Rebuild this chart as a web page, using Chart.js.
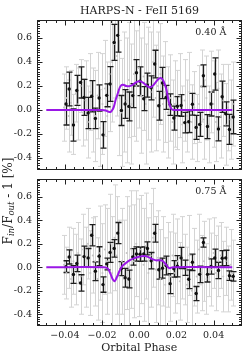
<!DOCTYPE html>
<html>
<head>
<meta charset="utf-8">
<title>HARPS-N - FeII 5169</title>
<script src="https://cdn.jsdelivr.net/npm/chart.js@4.4.0/dist/chart.umd.min.js"></script>
<style>
    html, body { margin: 0; padding: 0; background: #fff; }
    body { width: 249px; height: 360px; position: relative; overflow: hidden; font-family: "DejaVu Serif", serif; color: #222; }
    #topWrap { position: absolute; left: 0; top: 0; width: 249px; height: 175px; }
    #botWrap { position: absolute; left: 0; top: 175px; width: 249px; height: 185px; }
    #title { position: absolute; left: 37px; top: 4px; width: 205px; text-align: center; font-size: 11px; line-height: 14px; white-space: nowrap; }
    #ylabel { position: absolute; left: -62px; top: 194px; width: 140px; height: 14px; text-align: center; font-size: 12px; line-height: 14px; white-space: nowrap; transform: rotate(-90deg); }
    #ylabel sub { font-size: 8.5px; font-style: italic; vertical-align: -2px; line-height: 0; }
</style>
</head>
<body>
<div id="topWrap"><canvas id="topChart" width="249" height="175"></canvas></div>
<div id="botWrap"><canvas id="botChart" width="249" height="185"></canvas></div>
<div id="title">HARPS-N - FeII 5169</div>
<div id="ylabel">F<sub>in</sub>/F<sub>out</sub> - 1 [%]</div>

<script>
// Transit light curves of FeII 5169 - two passband widths

// Binned points (black), same phases in both panels
const BIN_PHASE = [-0.0394, -0.0377, -0.0354, -0.0336, -0.0316, -0.0297, -0.0275, -0.0256, -0.0236, -0.0216,
    -0.0195, -0.0175, -0.0157, -0.0135, -0.0116, -0.0096, -0.0076, -0.0056, -0.0035, -0.0015,
    0.0004, 0.0024, 0.0044, 0.0064, 0.0083, 0.0105, 0.0125, 0.0144, 0.0166, 0.0186,
    0.0205, 0.0225, 0.0245, 0.0266, 0.0286, 0.0306, 0.0325, 0.0345, 0.0367, 0.0386,
    0.0406, 0.0426, 0.0446, 0.0465, 0.0485, 0.0505];

const TOP_BIN_VAL = [0.05, 0.175, -0.125, 0.163, 0.23, 0.105, -0.025, 0.115, -0.07, 0.1,
    -0.207, 0.122, 0.217, 0.563, 0.622, -0.004, 0.05, 0.03, 0.12, 0.31,
    0.24, 0.094, 0.208, 0.185, 0.383, 0.036, 0.225, 0.105, 0.045, -0.067,
    0.032, 0.038, -0.105, -0.098, 0.048, -0.145, -0.12, 0.286, -0.138, 0.05,
    0.3, -0.158, 0.11, -0.032, -0.162, -0.058];
const TOP_BIN_ERR = [0.175, 0.14, 0.135, 0.125, 0.13, 0.15, 0.13, 0.13, 0.085, 0.11,
    0.11, 0.095, 0.145, 0.15, 0.14, 0.125, 0.12, 0.12, 0.1, 0.11,
    0.12, 0.1, 0.1, 0.1, 0.115, 0.12, 0.13, 0.1, 0.09, 0.1,
    0.08, 0.09, 0.085, 0.09, 0.09, 0.1, 0.1, 0.09, 0.1, 0.1,
    0.135, 0.1, 0.13, 0.1, 0.125, 0.14];

const BOT_BIN_VAL = [0.005, 0.087, -0.062, 0.032, -0.134, 0.09, 0.079, 0.272, -0.035, 0.094,
    -0.148, 0.028, 0.126, 0.16, 0.29, -0.012, -0.09, -0.1, 0.088, 0.112,
    0.11, 0.112, 0.16, 0.055, 0.289, -0.022, -0.008, 0.014, -0.14, -0.014,
    0.008, 0.079, -0.005, -0.103, 0.042, -0.224, -0.061, 0.21, -0.061, 0.006,
    0.079, -0.028, 0.076, 0.079, -0.072, -0.078];
const BOT_BIN_ERR = [0.05, 0.06, 0.075, 0.07, 0.07, 0.09, 0.08, 0.09, 0.08, 0.08,
    0.065, 0.05, 0.085, 0.075, 0.09, 0.06, 0.08, 0.075, 0.07, 0.06,
    0.06, 0.06, 0.055, 0.07, 0.075, 0.08, 0.085, 0.08, 0.085, 0.07,
    0.09, 0.09, 0.065, 0.08, 0.07, 0.06, 0.07, 0.04, 0.065, 0.065,
    0.075, 0.07, 0.065, 0.065, 0.04, 0.04];

// Individual exposures (light gray)
const RAW_PHASE = [-0.0405, -0.0392, -0.0380, -0.0367, -0.0354, -0.0341, -0.0328, -0.0315, -0.0302, -0.0289,
    -0.0276, -0.0263, -0.0250, -0.0237, -0.0224, -0.0211, -0.0198, -0.0185, -0.0172, -0.0159,
    -0.0146, -0.0133, -0.0120, -0.0107, -0.0094, -0.0081, -0.0068, -0.0055, -0.0042, -0.0029,
    -0.0016, -0.0003, 0.0010, 0.0023, 0.0036, 0.0049, 0.0062, 0.0075, 0.0088, 0.0101,
    0.0114, 0.0127, 0.0140, 0.0153, 0.0166, 0.0179, 0.0192, 0.0205, 0.0218, 0.0231,
    0.0244, 0.0257, 0.0270, 0.0283, 0.0296, 0.0309, 0.0322, 0.0335, 0.0348, 0.0361,
    0.0374, 0.0387, 0.0400, 0.0413, 0.0426, 0.0439, 0.0452, 0.0465, 0.0478, 0.0491, 0.0504];

const TOP_RAW_VAL = [0.02, 0.10, -0.05, 0.06, -0.12, 0.14, 0.05, 0.20, -0.02, 0.08,
    -0.10, 0.15, 0.00, -0.05, 0.12, -0.15, 0.05, 0.18, -0.05, 0.30,
    0.40, 0.55, 0.45, 0.10, -0.02, 0.15, 0.08, 0.25, 0.05, 0.30,
    0.20, 0.35, 0.12, 0.28, 0.05, 0.22, 0.15, 0.40, 0.10, 0.20,
    0.30, 0.05, 0.15, -0.02, 0.10, -0.10, 0.05, 0.00, 0.12, -0.12,
    0.08, -0.05, 0.15, -0.10, 0.02, -0.15, 0.05, 0.20, -0.08, 0.10,
    -0.12, 0.15, 0.05, -0.10, 0.18, -0.05, 0.08, -0.12, 0.02, -0.08, 0.05];
const TOP_RAW_ERR = [0.28, 0.26, 0.30, 0.27, 0.25, 0.24, 0.30, 0.22, 0.28, 0.33,
    0.30, 0.32, 0.35, 0.38, 0.36, 0.32, 0.42, 0.40, 0.45, 0.48,
    0.50, 0.45, 0.50, 0.48, 0.45, 0.50, 0.52, 0.48, 0.50, 0.52,
    0.46, 0.50, 0.48, 0.45, 0.50, 0.47, 0.50, 0.46, 0.44, 0.45,
    0.42, 0.40, 0.42, 0.38, 0.36, 0.35, 0.36, 0.33, 0.35, 0.32,
    0.34, 0.30, 0.33, 0.31, 0.30, 0.28, 0.32, 0.30, 0.33, 0.35,
    0.32, 0.34, 0.36, 0.33, 0.32, 0.35, 0.30, 0.34, 0.36, 0.33, 0.35];

const BOT_RAW_VAL = [0.02, -0.05, 0.08, -0.10, 0.05, -0.02, 0.12, -0.08, 0.15, 0.00,
    0.20, -0.05, 0.10, 0.05, -0.10, 0.12, -0.05, 0.15, 0.05, 0.20,
    -0.05, 0.25, 0.10, -0.08, 0.05, -0.10, 0.12, 0.00, 0.15, 0.05,
    0.20, 0.08, 0.15, 0.02, 0.18, -0.05, 0.10, 0.25, -0.02, 0.08,
    -0.10, 0.05, -0.15, 0.02, -0.08, 0.10, -0.05, 0.05, -0.12, 0.08,
    -0.02, -0.15, 0.10, -0.20, 0.00, -0.08, 0.15, -0.05, 0.05, -0.10,
    0.08, -0.02, 0.12, -0.05, 0.05, 0.10, -0.08, 0.05, -0.10, 0.02, -0.05];
const BOT_RAW_ERR = [0.25, 0.22, 0.26, 0.24, 0.28, 0.30, 0.26, 0.32, 0.30, 0.34,
    0.30, 0.36, 0.32, 0.38, 0.35, 0.40, 0.42, 0.38, 0.45, 0.42,
    0.48, 0.45, 0.50, 0.48, 0.45, 0.50, 0.48, 0.52, 0.50, 0.48,
    0.45, 0.50, 0.46, 0.48, 0.45, 0.47, 0.44, 0.42, 0.45, 0.40,
    0.42, 0.38, 0.40, 0.36, 0.38, 0.35, 0.34, 0.36, 0.33, 0.35,
    0.30, 0.32, 0.34, 0.30, 0.33, 0.31, 0.30, 0.32, 0.34, 0.30,
    0.33, 0.31, 0.30, 0.32, 0.30, 0.28, 0.30, 0.29, 0.28, 0.30, 0.28];

// Model curves (purple)
const TOP_MODEL_PHASE = [-0.050, -0.020, -0.018, -0.0165, -0.0153, -0.0143, -0.0136, -0.0127, -0.0117, -0.0108,
    -0.0100, -0.0090, -0.0082, -0.0070, -0.0055, -0.0040, -0.0025, -0.0010, 0.0005, 0.0020,
    0.0035, 0.0050, 0.0062, 0.0075, 0.0090, 0.0105, 0.0116, 0.0131, 0.0146, 0.0160,
    0.0173, 0.0185, 0.050];
const TOP_MODEL_VAL = [0, 0, -0.004, -0.014, -0.015, 0.005, 0.03, 0.085, 0.13, 0.175,
    0.2, 0.21, 0.208, 0.2, 0.198, 0.205, 0.222, 0.237, 0.24, 0.228,
    0.21, 0.193, 0.19, 0.205, 0.235, 0.26, 0.267, 0.24, 0.17, 0.06,
    0.008, 0, 0];

const BOT_MODEL_PHASE = [-0.050, -0.019, -0.017, -0.0155, -0.0142, -0.0132, -0.0122, -0.011, -0.010, -0.009,
    -0.007, -0.005, -0.003, -0.001, 0.001, 0.003, 0.005, 0.007, 0.009, 0.011,
    0.0125, 0.014, 0.0155, 0.0165, 0.018, 0.050];
const BOT_MODEL_VAL = [0, 0, -0.01, -0.055, -0.105, -0.118, -0.09, -0.045, -0.012, 0.012,
    0.038, 0.06, 0.075, 0.085, 0.092, 0.095, 0.085, 0.068, 0.058, 0.06,
    0.055, 0.03, 0.0, -0.008, 0.0, 0];

// Axis setup
const X_MIN = -0.055, X_MAX = 0.055;
const Y_MIN = -0.5, Y_MAX = 0.75;
const X_TICKS = [-0.04, -0.02, 0.0, 0.02, 0.04];
const Y_TICKS = [-0.4, -0.2, 0.0, 0.2, 0.4, 0.6];
const X_MINOR_STEP = 0.005;
const Y_MINOR_STEP = 0.02;

const PURPLE = '#9a17e6';
const FONT = 'DejaVu Serif';

// Build {x, y} points from two arrays
function toPoints(xs, ys) {
    return xs.map((x, i) => ({ x: x, y: ys[i] }));
}

// Error bars drawn under the markers
const errorBarPlugin = {
    id: 'errorBars',
    beforeDatasetsDraw(chart) {
        const { ctx, chartArea: a, scales: { x, y } } = chart;
        ctx.save();
        ctx.beginPath();
        ctx.rect(a.left, a.top, a.right - a.left, a.bottom - a.top);
        ctx.clip();
        chart.data.datasets.slice().reverse().forEach(ds => {
            if (!ds.errors) return;
            ctx.strokeStyle = ds.errColor;
            ctx.lineWidth = ds.errWidth;
            ds.data.forEach((p, i) => {
                const px = Math.round(x.getPixelForValue(p.x)) + 0.5;
                const top = y.getPixelForValue(p.y + ds.errors[i]);
                const bot = y.getPixelForValue(p.y - ds.errors[i]);
                const c = ds.capSize;
                ctx.beginPath();
                ctx.moveTo(px, top);
                ctx.lineTo(px, bot);
                ctx.moveTo(px - c, top);
                ctx.lineTo(px + c, top);
                ctx.moveTo(px - c, bot);
                ctx.lineTo(px + c, bot);
                ctx.stroke();
            });
        });
        ctx.restore();
    }
};

// Box frame with inward major/minor ticks on all sides
const frameTickPlugin = {
    id: 'frameTicks',
    afterDraw(chart) {
        const { ctx, chartArea: a, scales: { x, y } } = chart;
        const L = Math.round(a.left) + 0.5, R = Math.round(a.right) - 0.5;
        const T = Math.round(a.top) + 0.5, B = Math.round(a.bottom) - 0.5;
        ctx.save();
        ctx.strokeStyle = '#222';
        ctx.lineWidth = 1;
        ctx.strokeRect(L, T, R - L, B - T);
        ctx.beginPath();
        for (let v = -0.05; v <= 0.0501; v += X_MINOR_STEP) {
            const major = X_TICKS.some(t => Math.abs(t - v) < 1e-6);
            const len = major ? 5 : 2.5;
            const px = Math.round(x.getPixelForValue(v)) + 0.5;
            ctx.moveTo(px, B); ctx.lineTo(px, B - len);
            ctx.moveTo(px, T); ctx.lineTo(px, T + len);
        }
        for (let v = -0.48; v <= 0.7401; v += Y_MINOR_STEP) {
            const major = Y_TICKS.some(t => Math.abs(t - v) < 1e-6);
            const len = major ? 5 : 2.5;
            const py = Math.round(y.getPixelForValue(v)) + 0.5;
            ctx.moveTo(L, py); ctx.lineTo(L + len, py);
            ctx.moveTo(R, py); ctx.lineTo(R - len, py);
        }
        ctx.stroke();
        ctx.restore();
    }
};

// Passband width label in the upper right corner
const panelLabelPlugin = {
    id: 'panelLabel',
    afterDraw(chart, args, opts) {
        const { ctx, scales: { x, y } } = chart;
        ctx.save();
        ctx.fillStyle = '#222';
        ctx.font = '9.5px "' + FONT + '"';
        ctx.textAlign = 'center';
        ctx.textBaseline = 'middle';
        ctx.fillText(opts.text, x.getPixelForValue(opts.x), y.getPixelForValue(opts.y));
        ctx.restore();
    }
};

function makePanel(canvasId, cfg) {
    const ctx = document.getElementById(canvasId);
    return new Chart(ctx, {
        type: 'scatter',
        data: {
            datasets: [
                {
                    label: 'model',
                    data: toPoints(cfg.modelX, cfg.modelY),
                    showLine: true,
                    borderColor: PURPLE,
                    borderWidth: 2,
                    pointRadius: 0,
                    tension: 0.3
                },
                {
                    label: 'binned',
                    data: toPoints(BIN_PHASE, cfg.binY),
                    errors: cfg.binErr,
                    errColor: '#1e1e1e',
                    errWidth: 1.3,
                    capSize: 3,
                    pointRadius: 1.7,
                    pointBackgroundColor: '#111',
                    pointBorderWidth: 0
                },
                {
                    label: 'exposures',
                    data: toPoints(RAW_PHASE, cfg.rawY),
                    errors: cfg.rawErr,
                    errColor: '#d4d4d4',
                    errWidth: 1,
                    capSize: 2.5,
                    pointRadius: 1,
                    pointBackgroundColor: '#c4c4c4',
                    pointBorderWidth: 0
                }
            ]
        },
        options: {
            responsive: false,
            animation: false,
            events: [],
            layout: { padding: cfg.padding },
            plugins: {
                legend: { display: false },
                tooltip: { enabled: false },
                panelLabel: { text: cfg.label, x: 0.0385, y: 0.645 }
            },
            scales: {
                x: {
                    type: 'linear',
                    min: X_MIN,
                    max: X_MAX,
                    display: cfg.showX,
                    afterBuildTicks: s => { s.ticks = X_TICKS.map(v => ({ value: v })); },
                    afterFit: s => {
                        s.height = cfg.showX ? 34 : 0;
                        s.paddingLeft = 0;
                        s.paddingRight = 0;
                    },
                    grid: { display: false, drawTicks: false },
                    border: { display: false },
                    ticks: {
                        padding: 4,
                        maxRotation: 0,
                        color: '#222',
                        font: { family: FONT, size: 9.5 },
                        callback: v => (v < -1e-9 ? '\u2212' : '') + Math.abs(v).toFixed(2)
                    },
                    title: {
                        display: true,
                        text: 'Orbital Phase',
                        color: '#222',
                        font: { family: FONT, size: 11 },
                        padding: { top: 0, bottom: 5 }
                    }
                },
                y: {
                    type: 'linear',
                    min: Y_MIN,
                    max: Y_MAX,
                    afterBuildTicks: s => { s.ticks = Y_TICKS.map(v => ({ value: v })); },
                    afterFit: s => {
                        s.width = 37;
                        s.paddingTop = 0;
                        s.paddingBottom = 0;
                    },
                    grid: { display: false, drawTicks: false },
                    border: { display: false },
                    ticks: {
                        padding: 5,
                        color: '#222',
                        font: { family: FONT, size: 9.5 },
                        callback: v => v.toFixed(1)
                    }
                }
            }
        },
        plugins: [errorBarPlugin, frameTickPlugin, panelLabelPlugin]
    });
}

document.addEventListener('DOMContentLoaded', () => {
    makePanel('topChart', {
        modelX: TOP_MODEL_PHASE, modelY: TOP_MODEL_VAL,
        binY: TOP_BIN_VAL, binErr: TOP_BIN_ERR,
        rawY: TOP_RAW_VAL, rawErr: TOP_RAW_ERR,
        label: '0.40 \u00c5',
        showX: false,
        padding: { top: 20, bottom: 5, left: 0, right: 7.5 }
    });
    makePanel('botChart', {
        modelX: BOT_MODEL_PHASE, modelY: BOT_MODEL_VAL,
        binY: BOT_BIN_VAL, binErr: BOT_BIN_ERR,
        rawY: BOT_RAW_VAL, rawErr: BOT_RAW_ERR,
        label: '0.75 \u00c5',
        showX: true,
        padding: { top: 3, bottom: 0, left: 0, right: 7.5 }
    });
});
</script>
</body>
</html>
